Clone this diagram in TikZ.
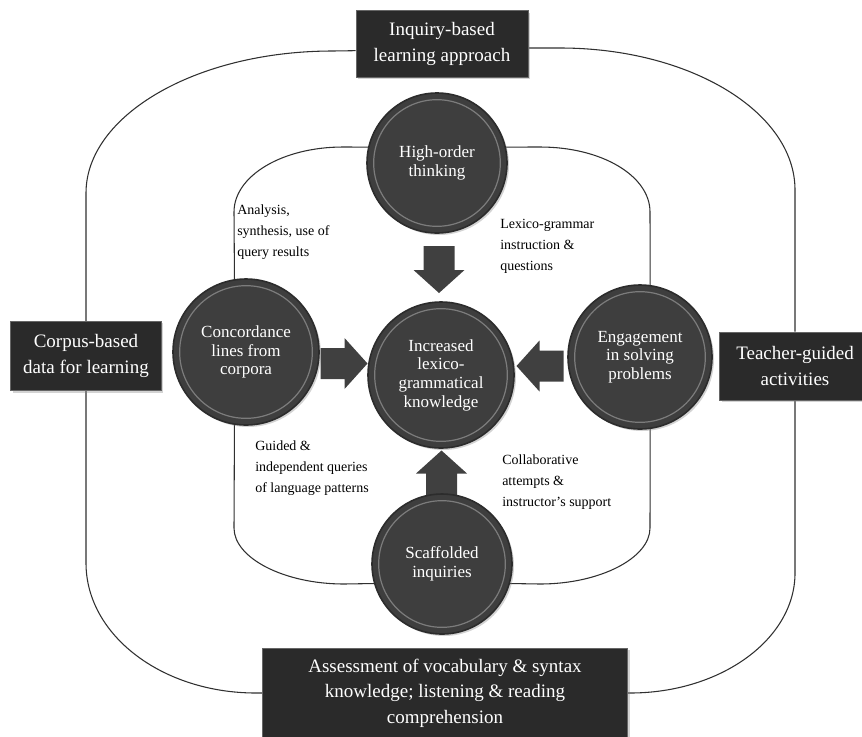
\documentclass[tikz,border=0pt]{standalone}
\usepackage{fontspec}
\setmainfont{Liberation Serif}
\usetikzlibrary{calc,shadows}
\definecolor{boxfill}{HTML}{2A2A2A}
\definecolor{circfill}{HTML}{3E3E3E}
\definecolor{rimdark}{HTML}{2C2C2C}
\definecolor{ringlight}{HTML}{8C8C8C}
\definecolor{arrfill}{HTML}{404040}
\definecolor{loopcol}{HTML}{303030}
\newcommand\boxfont{\fontsize{14.25pt}{19pt}\selectfont}
\newcommand\circfont{\fontsize{12.75pt}{14pt}\selectfont}
\newcommand\labfont{\fontsize{10.5pt}{15.75pt}\selectfont}
\pgfdeclarelayer{background}
\pgfsetlayers{background,main}
\begin{document}
\begin{tikzpicture}[x=0.75pt,y=-0.75pt,
  darkbox/.style={rectangle, fill=boxfill, draw=black!60, line width=0.6pt, text=white, align=center, font=\boxfont, inner sep=0pt, drop shadow={opacity=0.35, shadow xshift=1.5pt, shadow yshift=-1.5pt}},
  circ/.style={circle, fill=circfill, draw=rimdark, line width=1.2pt, text=white, align=center, font=\circfont, inner sep=0pt, minimum size=#1, drop shadow={opacity=0.35, shadow xshift=1.5pt, shadow yshift=-1.5pt}, path picture={\draw[ringlight, line width=0.9pt, opacity=0.8] (path picture bounding box.center) circle[radius=#1/2-5pt];}},
  loopline/.style={draw=loopcol, line width=0.8pt},
  lab/.style={align=left, font=\labfont, inner sep=0pt, anchor=north west},
  blockarr/.pic={\fill[arrfill] (-23,-15.5) -- (1,-15.5) -- (1,-25.5) -- (24,0) -- (1,25.5) -- (1,15.5) -- (-23,15.5) -- cycle;}
]
\useasboundingbox (0,0) rectangle (862,736);

% boxes
\node[darkbox, minimum width=129pt, minimum height=50pt] (inq) at (442,44) {Inquiry-based\\learning approach};
\node[darkbox, minimum width=113pt, minimum height=52pt] (corp) at (86,356) {Corpus-based\\data for learning};
\node[darkbox, minimum width=113pt, minimum height=51pt] (teach) at (795,366) {Teacher-guided\\activities};
\node[darkbox, minimum width=274pt, minimum height=67pt] (assess) at (445,693) {Assessment of vocabulary \& syntax\\knowledge; listening \& reading\\comprehension};

% circles
\node[circ=105pt] (high) at (437,163) {High-order\\thinking};
\node[circ=109.5pt] (conc) at (246,352) {Concordance\\lines from\\corpora};
\node[circ=109.5pt] (center) at (441,375) {Increased\\lexico-\\grammatical\\knowledge};
\node[circ=108pt] (eng) at (640,357) {Engagement\\in solving\\problems};
\node[circ=105pt] (scaf) at (442,564) {Scaffolded\\inquiries};

% labels
\node[lab] (l1) at (237,205) {Analysis,\\synthesis, use of\\query results};
\node[lab] (l2) at (500,219) {Lexico-grammar\\instruction \&\\questions};
\node[lab] (l3) at (255,441) {Guided \&\\independent queries\\of language patterns};
\node[lab] (l4) at (502,455) {Collaborative\\attempts \&\\instructor's support};

\begin{pgfonlayer}{background}
% outer loop
\draw[loopline] ([yshift=-5pt]inq.west) -- (333,51) .. controls (195,51) and (86,116) .. (86,193) -- (corp.north);
\draw[loopline] ([yshift=-3pt]inq.east) -- (560,48) .. controls (690,48) and (795,112) .. (795,190) -- (teach.north);
\draw[loopline] (corp.south) -- (86,563) .. controls (86,635) and (162,693) .. (256,693) -- (assess.west);
\draw[loopline] (teach.south) -- (795,573) .. controls (795,639) and (721,693) .. (630,693) -- (assess.east);
% inner loop
\draw[loopline] (high.167) -- (343,147) .. controls (282,147) and (234,176) .. (234,212) -- (conc.99);
\draw[loopline] (conc.261) -- (234,528) .. controls (234,558) and (284,584) .. (344,584) -- (scaf.196);
\draw[loopline] (high.13) -- (540,147) .. controls (602,147) and (650,176) .. (650,212) -- (eng.82);
\draw[loopline] (eng.278) -- (650,528) .. controls (650,558) and (600,584) .. (540,584) -- (scaf.-16);
% block arrows
\pic[rotate=-90] at ($(high)!0.5!(center)$) {blockarr};
\pic at ($(conc)!0.5!(center)$) {blockarr};
\pic[rotate=180] at ($(eng)!0.5!(center)$) {blockarr};
\pic[rotate=90] at ($(center)!0.5!(scaf)+(0,5)$) {blockarr};
\end{pgfonlayer}
\end{tikzpicture}
\end{document}
